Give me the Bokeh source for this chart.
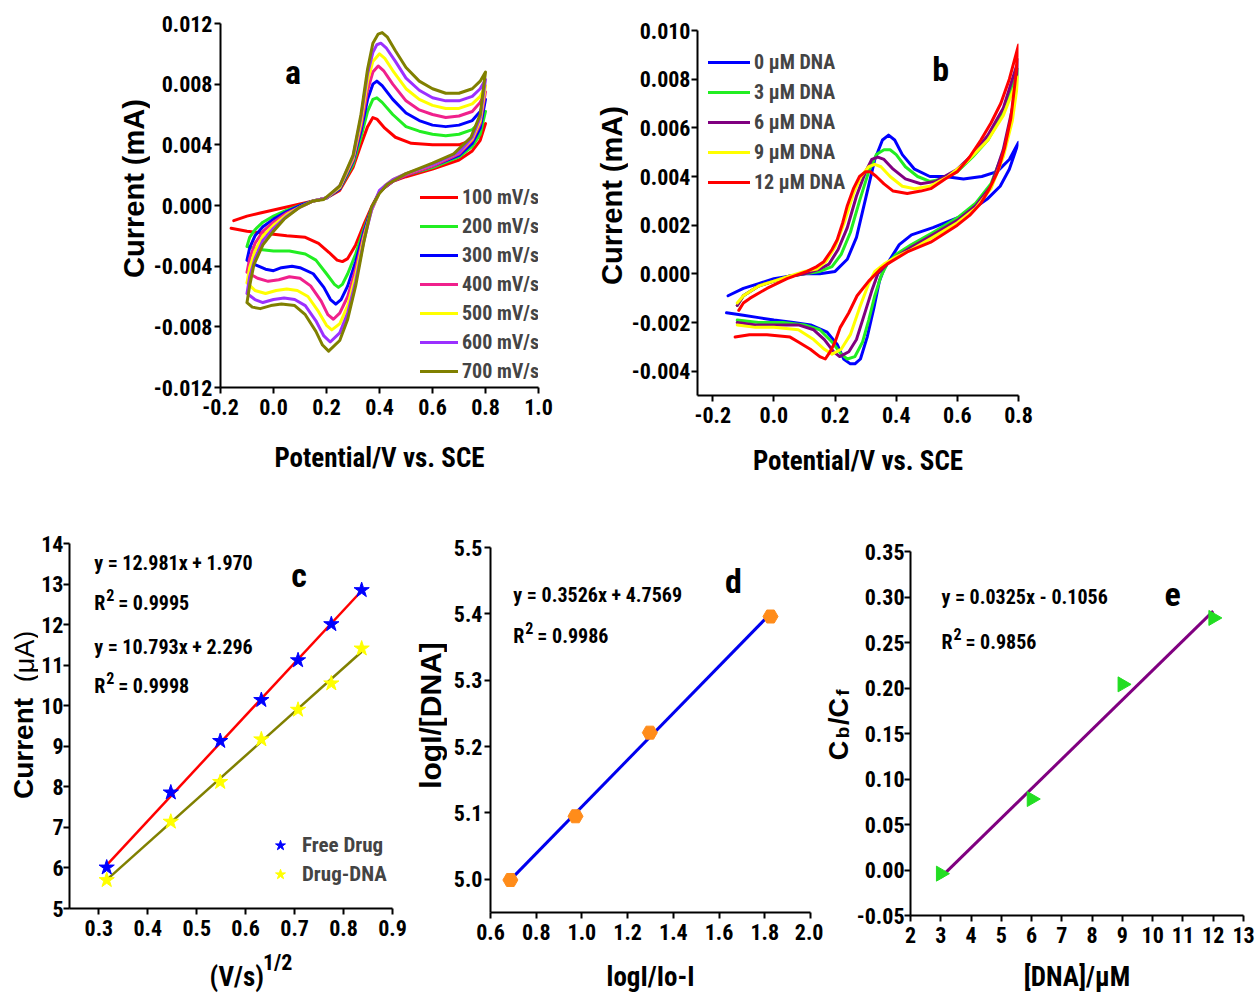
import math
from bokeh.plotting import figure
from bokeh.layouts import column, row
from bokeh.models import (FixedTicker, PrintfTickFormatter, Legend, LegendItem,
                          Label, Spacer)
from bokeh.embed import file_html
from bokeh.resources import INLINE

NARROW = "Roboto Condensed, DejaVu Sans Condensed, Liberation Sans"
WIDE = "Liberation Sans"

# ---------------- Panel a: CVs at different scan rates (E / V, I / mA) ----------------
a_labels = ["100 mV/s", "200 mV/s", "300 mV/s", "400 mV/s", "500 mV/s", "600 mV/s", "700 mV/s"]
a_colors = ["#ff0000", "#22ee22", "#0000ff", "#f0208c", "#ffff00", "#9b30ff", "#808000"]

a_100 = [(-0.15, -0.0010), (-0.1, -0.0007), (-0.05, -0.0005), (0.0, -0.0003), (0.05, -0.0001), (0.1, 0.0001),
         (0.15, 0.0003), (0.2, 0.0005), (0.25, 0.0010), (0.3, 0.0025), (0.33, 0.0040), (0.355, 0.0052),
         (0.375, 0.0058), (0.39, 0.0057), (0.42, 0.0051), (0.46, 0.0045), (0.52, 0.0041), (0.6, 0.0040),
         (0.7, 0.0040), (0.75, 0.0043), (0.78, 0.0048), (0.8, 0.0054),
         (0.78, 0.0043), (0.75, 0.0036), (0.7, 0.0030), (0.6, 0.0024), (0.5, 0.0019), (0.45, 0.0016),
         (0.42, 0.0012), (0.4, 0.0009), (0.37, -0.0001), (0.34, -0.0013), (0.31, -0.0026), (0.28, -0.0035),
         (0.26, -0.0037), (0.24, -0.0036), (0.21, -0.0031), (0.17, -0.0025), (0.12, -0.0021), (0.05, -0.0020),
         (0.0, -0.0019), (-0.05, -0.0018), (-0.1, -0.0017), (-0.16, -0.0015)]
a_200 = [(-0.1, -0.0027), (-0.09, -0.0021), (-0.07, -0.0016), (-0.04, -0.0011), (0.0, -0.0007), (0.05, -0.0003),
         (0.1, 0.0000), (0.15, 0.0003), (0.2, 0.0005), (0.25, 0.0011), (0.3, 0.0027), (0.33, 0.0045),
         (0.355, 0.0062), (0.375, 0.0070), (0.39, 0.0071), (0.41, 0.0068), (0.45, 0.0060), (0.5, 0.0052),
         (0.55, 0.0049), (0.6, 0.0047), (0.65, 0.0046), (0.7, 0.0047), (0.75, 0.0050), (0.78, 0.0055), (0.8, 0.0062),
         (0.78, 0.0047), (0.75, 0.0039), (0.7, 0.0032), (0.6, 0.0025), (0.5, 0.0020), (0.45, 0.0016),
         (0.42, 0.0012), (0.4, 0.0009), (0.37, -0.0002), (0.34, -0.0016), (0.31, -0.0032), (0.28, -0.0045),
         (0.26, -0.0052), (0.245, -0.0054), (0.23, -0.0052), (0.2, -0.0045), (0.16, -0.0036), (0.12, -0.0032),
         (0.06, -0.0030), (0.0, -0.0030), (-0.05, -0.0029), (-0.1, -0.0027)]
a_300 = [(-0.1, -0.0036), (-0.09, -0.0028), (-0.07, -0.0020), (-0.04, -0.0014), (0.0, -0.0009), (0.05, -0.0004),
         (0.1, 0.0000), (0.15, 0.0003), (0.2, 0.0005), (0.25, 0.0011), (0.3, 0.0029), (0.33, 0.0049),
         (0.355, 0.0070), (0.375, 0.0080), (0.39, 0.0082), (0.41, 0.0079), (0.45, 0.0070), (0.5, 0.0061),
         (0.55, 0.0056), (0.6, 0.0053), (0.65, 0.0052), (0.7, 0.0053), (0.75, 0.0056), (0.78, 0.0062), (0.8, 0.0070),
         (0.78, 0.0051), (0.75, 0.0041), (0.7, 0.0033), (0.6, 0.0026), (0.5, 0.0020), (0.45, 0.0016),
         (0.42, 0.0012), (0.4, 0.0009), (0.37, -0.0002), (0.34, -0.0018), (0.31, -0.0037), (0.28, -0.0053),
         (0.255, -0.0062), (0.235, -0.0065), (0.215, -0.0062), (0.19, -0.0054), (0.15, -0.0045), (0.1, -0.0041),
         (0.07, -0.0040), (0.03, -0.0041), (0.0, -0.0043), (-0.03, -0.0042), (-0.07, -0.0039), (-0.1, -0.0036)]
a_400 = [(-0.1, -0.0044), (-0.09, -0.0035), (-0.07, -0.0025), (-0.04, -0.0017), (0.0, -0.0011), (0.05, -0.0005),
         (0.1, -0.0001), (0.15, 0.0003), (0.2, 0.0005), (0.25, 0.0012), (0.3, 0.0030), (0.33, 0.0052),
         (0.355, 0.0076), (0.375, 0.0088), (0.395, 0.0092), (0.415, 0.0089), (0.45, 0.0080), (0.5, 0.0069),
         (0.55, 0.0063), (0.6, 0.0060), (0.65, 0.0058), (0.7, 0.0059), (0.75, 0.0062), (0.78, 0.0068), (0.8, 0.0075),
         (0.78, 0.0054), (0.75, 0.0043), (0.7, 0.0034), (0.6, 0.0026), (0.5, 0.0020), (0.45, 0.0016),
         (0.42, 0.0012), (0.4, 0.0009), (0.37, -0.0003), (0.34, -0.0020), (0.31, -0.0042), (0.28, -0.0060),
         (0.25, -0.0071), (0.226, -0.0075), (0.205, -0.0072), (0.18, -0.0063), (0.14, -0.0053), (0.1, -0.0048),
         (0.06, -0.0047), (0.02, -0.0049), (-0.02, -0.0050), (-0.06, -0.0048), (-0.1, -0.0044)]
a_500 = [(-0.1, -0.0051), (-0.09, -0.0041), (-0.07, -0.0030), (-0.04, -0.0020), (0.0, -0.0013), (0.05, -0.0006),
         (0.1, -0.0001), (0.15, 0.0003), (0.2, 0.0005), (0.25, 0.0012), (0.3, 0.0031), (0.33, 0.0055),
         (0.355, 0.0082), (0.375, 0.0095), (0.40, 0.0100), (0.42, 0.0097), (0.45, 0.0089), (0.5, 0.0077),
         (0.55, 0.0070), (0.6, 0.0066), (0.65, 0.0064), (0.7, 0.0064), (0.75, 0.0067), (0.78, 0.0072), (0.8, 0.0079),
         (0.78, 0.0056), (0.75, 0.0044), (0.7, 0.0035), (0.6, 0.0027), (0.5, 0.0021), (0.45, 0.0017),
         (0.42, 0.0013), (0.4, 0.0009), (0.37, -0.0003), (0.34, -0.0022), (0.31, -0.0046), (0.28, -0.0066),
         (0.25, -0.0078), (0.22, -0.0082), (0.2, -0.0079), (0.17, -0.0070), (0.13, -0.0060), (0.09, -0.0056),
         (0.05, -0.0055), (0.01, -0.0056), (-0.03, -0.0058), (-0.07, -0.0056), (-0.1, -0.0051)]
a_600 = [(-0.1, -0.0058), (-0.09, -0.0047), (-0.07, -0.0035), (-0.04, -0.0023), (0.0, -0.0015), (0.05, -0.0007),
         (0.1, -0.0001), (0.15, 0.0003), (0.2, 0.0005), (0.25, 0.0013), (0.3, 0.0032), (0.33, 0.0058),
         (0.355, 0.0087), (0.375, 0.0101), (0.39, 0.0106), (0.405, 0.0107), (0.425, 0.0104), (0.46, 0.0095),
         (0.5, 0.0084), (0.55, 0.0076), (0.6, 0.0071), (0.65, 0.0069), (0.7, 0.0069), (0.75, 0.0072),
         (0.78, 0.0077), (0.8, 0.0083),
         (0.78, 0.0058), (0.75, 0.0045), (0.7, 0.0035), (0.6, 0.0027), (0.5, 0.0021), (0.45, 0.0017),
         (0.42, 0.0013), (0.4, 0.0010), (0.37, -0.0003), (0.34, -0.0024), (0.31, -0.0050), (0.28, -0.0071),
         (0.25, -0.0084), (0.214, -0.0090), (0.19, -0.0086), (0.16, -0.0076), (0.12, -0.0066), (0.08, -0.0062),
         (0.04, -0.0061), (0.0, -0.0062), (-0.04, -0.0064), (-0.07, -0.0062), (-0.1, -0.0058)]
a_700 = [(-0.1, -0.0064), (-0.09, -0.0053), (-0.074, -0.0039), (-0.04, -0.0026), (0.0, -0.0017), (0.04, -0.0009),
         (0.1, -0.0001), (0.15, 0.0003), (0.19, 0.0004), (0.25, 0.0013), (0.3, 0.0033), (0.33, 0.0060),
         (0.355, 0.0090), (0.375, 0.0107), (0.395, 0.0113), (0.41, 0.0114), (0.43, 0.0111), (0.46, 0.0102),
         (0.5, 0.0091), (0.55, 0.0082), (0.6, 0.0077), (0.65, 0.0074), (0.7, 0.0074), (0.75, 0.0077),
         (0.78, 0.0082), (0.8, 0.0088),
         (0.78, 0.0060), (0.745, 0.0045), (0.68, 0.0034), (0.6, 0.0028), (0.5, 0.0021), (0.43, 0.0014),
         (0.4, 0.0008), (0.37, -0.0001), (0.34, -0.0025), (0.31, -0.0053), (0.28, -0.0075), (0.25, -0.0089),
         (0.208, -0.0096), (0.185, -0.0092), (0.16, -0.0083), (0.12, -0.0072), (0.08, -0.0066), (0.03, -0.0065),
         (-0.01, -0.0066), (-0.05, -0.0068), (-0.08, -0.0067), (-0.1, -0.0064)]
a_curves = [a_100, a_200, a_300, a_400, a_500, a_600, a_700]
a_xticks = [-0.2, 0.0, 0.2, 0.4, 0.6, 0.8, 1.0]
a_yticks = [-0.012, -0.008, -0.004, 0.0, 0.004, 0.008, 0.012]

# ---------------- Panel b: CVs with increasing DNA ----------------
b_labels = ["0 μM DNA", "3 μM DNA", "6 μM DNA", "9 μM DNA", "12 μM DNA"]
b_colors = ["#0000ff", "#22ee22", "#800080", "#ffff00", "#ff0000"]

b_0 = [(-0.15, -0.0009), (-0.1, -0.0006), (-0.05, -0.0004), (0.0, -0.0002), (0.05, -0.0001), (0.1, 0.0000),
       (0.15, 0.0000), (0.2, 0.0001), (0.24, 0.0006), (0.27, 0.0015), (0.3, 0.0031), (0.33, 0.0047),
       (0.355, 0.0055), (0.375, 0.0057), (0.395, 0.0055), (0.42, 0.0049), (0.46, 0.0043), (0.51, 0.0040),
       (0.56, 0.0040), (0.62, 0.0039), (0.68, 0.0040), (0.73, 0.0042), (0.77, 0.0047), (0.8, 0.0054),
       (0.77, 0.0043), (0.74, 0.0036), (0.7, 0.0031), (0.62, 0.0024), (0.52, 0.0019), (0.45, 0.0016),
       (0.41, 0.0012), (0.385, 0.0007), (0.36, 0.0002), (0.345, -0.0003), (0.327, -0.0014), (0.305, -0.0026),
       (0.283, -0.0035), (0.265, -0.0037), (0.25, -0.0037), (0.228, -0.0035), (0.207, -0.0029), (0.174, -0.0024),
       (0.12, -0.0021), (0.064, -0.0020), (0.0, -0.0019), (-0.05, -0.0018), (-0.1, -0.0017), (-0.155, -0.0016)]
b_3 = [(-0.12, -0.0013), (-0.1, -0.0009), (-0.05, -0.0005), (0.0, -0.0003), (0.05, -0.0001), (0.1, 0.0000),
       (0.15, 0.0001), (0.19, 0.0003), (0.22, 0.0008), (0.25, 0.0017), (0.28, 0.0030), (0.31, 0.0042),
       (0.335, 0.0049), (0.36, 0.0051), (0.38, 0.0051), (0.4, 0.0049), (0.43, 0.0044), (0.47, 0.0040),
       (0.51, 0.0038), (0.55, 0.0039), (0.6, 0.0042), (0.65, 0.0048), (0.7, 0.0055), (0.75, 0.0066), (0.8, 0.0084),
       (0.78, 0.0066), (0.75, 0.0050), (0.71, 0.0037), (0.66, 0.0029), (0.6, 0.0023), (0.52, 0.0017),
       (0.45, 0.0012), (0.4, 0.0008), (0.37, 0.0004), (0.35, -0.0001), (0.33, -0.0009), (0.31, -0.0019),
       (0.29, -0.0028), (0.265, -0.0034), (0.24, -0.0035), (0.22, -0.0033), (0.19, -0.0028), (0.15, -0.0023),
       (0.1, -0.0021), (0.03, -0.0020), (-0.05, -0.0020), (-0.12, -0.0019)]
b_6 = [(-0.12, -0.0013), (-0.1, -0.0009), (-0.05, -0.0005), (0.0, -0.0003), (0.05, -0.0001), (0.1, 0.0000),
       (0.15, 0.0002), (0.18, 0.0004), (0.21, 0.0010), (0.24, 0.0019), (0.27, 0.0032), (0.3, 0.0042),
       (0.32, 0.0047), (0.34, 0.0048), (0.36, 0.0047), (0.39, 0.0043), (0.43, 0.0039), (0.48, 0.0037),
       (0.53, 0.0038), (0.6, 0.0043), (0.65, 0.0049), (0.7, 0.0057), (0.75, 0.0068), (0.8, 0.0088),
       (0.78, 0.0068), (0.75, 0.0051), (0.71, 0.0036), (0.66, 0.0028), (0.6, 0.0022), (0.52, 0.0016),
       (0.45, 0.0011), (0.4, 0.0007), (0.37, 0.0004), (0.34, 0.0000), (0.32, -0.0007), (0.3, -0.0015),
       (0.27, -0.0027), (0.245, -0.0032), (0.215, -0.0034), (0.195, -0.0032), (0.165, -0.0027), (0.13, -0.0023),
       (0.08, -0.0021), (0.0, -0.0021), (-0.06, -0.0021), (-0.12, -0.0020)]
b_9 = [(-0.12, -0.0012), (-0.1, -0.0009), (-0.05, -0.0005), (0.0, -0.0003), (0.05, -0.0001), (0.1, 0.0001),
       (0.14, 0.0002), (0.17, 0.0005), (0.2, 0.0011), (0.23, 0.0021), (0.26, 0.0033), (0.285, 0.0040),
       (0.31, 0.0044), (0.33, 0.0045), (0.35, 0.0044), (0.38, 0.0040), (0.42, 0.0036), (0.46, 0.0035),
       (0.51, 0.0036), (0.57, 0.0040), (0.63, 0.0046), (0.7, 0.0055), (0.75, 0.0065), (0.8, 0.0081),
       (0.78, 0.0063), (0.75, 0.0048), (0.71, 0.0035), (0.66, 0.0027), (0.6, 0.0021), (0.52, 0.0015),
       (0.45, 0.0010), (0.4, 0.0007), (0.36, 0.0004), (0.33, 0.0001), (0.31, -0.0004), (0.28, -0.0014),
       (0.25, -0.0025), (0.22, -0.0031), (0.19, -0.0033), (0.165, -0.0031), (0.13, -0.0027), (0.08, -0.0023),
       (0.0, -0.0022), (-0.06, -0.0022), (-0.12, -0.0021)]
b_12 = [(-0.115, -0.0015), (-0.1, -0.0012), (-0.078, -0.0010), (-0.023, -0.0006), (0.043, -0.0002),
        (0.108, 0.0001), (0.14, 0.0003), (0.163, 0.0005), (0.19, 0.0010), (0.207, 0.0014), (0.225, 0.0021),
        (0.24, 0.0028), (0.26, 0.0035), (0.28, 0.0040), (0.3, 0.0042), (0.315, 0.0042), (0.335, 0.0040),
        (0.36, 0.0037), (0.39, 0.0034), (0.436, 0.0033), (0.48, 0.0034), (0.513, 0.0035), (0.56, 0.0039),
        (0.6, 0.0042), (0.64, 0.0048), (0.677, 0.0055), (0.71, 0.0062), (0.742, 0.0070), (0.77, 0.0080),
        (0.8, 0.0094),
        (0.79, 0.0080), (0.775, 0.0064), (0.755, 0.0052), (0.732, 0.0042), (0.705, 0.0035), (0.677, 0.0029),
        (0.64, 0.0024), (0.6, 0.0020), (0.513, 0.0013), (0.436, 0.0009), (0.37, 0.0004), (0.349, 0.0002),
        (0.31, -0.0003), (0.272, -0.0009), (0.245, -0.0016), (0.217, -0.0022), (0.2, -0.0028), (0.184, -0.0032),
        (0.168, -0.0035), (0.15, -0.0034), (0.119, -0.0031), (0.08, -0.0028), (0.053, -0.0026), (-0.023, -0.0025),
        (-0.08, -0.0025), (-0.127, -0.0026)]
b_curves = [b_0, b_3, b_6, b_9, b_12]
b_xticks = [-0.2, 0.0, 0.2, 0.4, 0.6, 0.8]
b_yticks = [-0.004, -0.002, 0.0, 0.002, 0.004, 0.006, 0.008, 0.010]

# ---------------- Panel c: peak current vs sqrt(scan rate) ----------------
c_x = [0.316, 0.447, 0.548, 0.632, 0.707, 0.775, 0.837]
c_free = [6.01, 7.86, 9.13, 10.14, 11.12, 12.01, 12.85]
c_dna = [5.70, 7.14, 8.12, 9.17, 9.90, 10.55, 11.41]
c_fit_free = (12.981, 1.970)
c_fit_dna = (10.793, 2.296)
c_xticks = [0.3, 0.4, 0.5, 0.6, 0.7, 0.8, 0.9]
c_yticks = [5, 6, 7, 8, 9, 10, 11, 12, 13, 14]

# ---------------- Panel d ----------------
d_x = [0.687, 0.972, 1.297, 1.825]
d_y = [4.999, 5.095, 5.221, 5.396]
d_fit = (0.3526, 4.7569)
d_xticks = [0.6, 0.8, 1.0, 1.2, 1.4, 1.6, 1.8, 2.0]
d_yticks = [5.0, 5.1, 5.2, 5.3, 5.4, 5.5]

# ---------------- Panel e ----------------
e_x = [3, 6, 9, 12]
e_y = [-0.004, 0.078, 0.204, 0.277]
e_fit = (0.0325, -0.1056)
e_xticks = [2, 3, 4, 5, 6, 7, 8, 9, 10, 11, 12, 13]
e_yticks = [-0.05, 0.0, 0.05, 0.10, 0.15, 0.20, 0.25, 0.30, 0.35]

HALF = math.pi / 2


def make_fig(w, h, xr, yr, mbl, mbr, mbt, mbb, xt, yt, xfmt, yfmt):
    p = figure(width=w, height=h, x_range=xr, y_range=yr, output_backend="svg",
               toolbar_location=None, min_border_left=mbl, min_border_right=mbr,
               min_border_top=mbt, min_border_bottom=mbb)
    p.outline_line_color = None
    p.xgrid.visible = False
    p.ygrid.visible = False
    p.xaxis.ticker = FixedTicker(ticks=xt)
    p.yaxis.ticker = FixedTicker(ticks=yt)
    p.xaxis.formatter = PrintfTickFormatter(format=xfmt)
    p.yaxis.formatter = PrintfTickFormatter(format=yfmt)
    for ax in (p.xaxis[0], p.yaxis[0]):
        ax.axis_line_width = 2
        ax.axis_line_color = "black"
        ax.major_tick_line_width = 2
        ax.major_tick_out = 6
        ax.major_tick_in = 0
        ax.minor_tick_out = 0
        ax.minor_tick_in = 0
        ax.major_label_text_font = NARROW
        ax.major_label_text_font_style = "bold"
        ax.major_label_text_font_size = "22px"
        ax.major_label_text_color = "black"
        ax.axis_label_text_font_style = "bold"
        ax.axis_label_text_color = "black"
    p.xaxis.major_label_standoff = 5
    p.yaxis.major_label_standoff = 2
    p.xaxis.axis_label_text_font = NARROW
    p.xaxis.axis_label_text_font_size = "27px"
    return p


def blank(w, h):
    s = figure(width=w, height=h, x_range=(0, w), y_range=(h, 0), output_backend="svg",
               toolbar_location=None, min_border=0, x_axis_location=None, y_axis_location=None)
    s.outline_line_color = None
    s.xgrid.visible = False
    s.ygrid.visible = False
    return s


def add_text(p, x, y, text, size="20px", font=NARROW, align="left", xo=0, yo=0, angle=0.0,
             style="bold"):
    p.add_layout(Label(x=x, y=y, text=text, text_font=font, text_font_size=size,
                       text_font_style=style, text_color="black", text_align=align,
                       text_baseline="middle", x_offset=xo, y_offset=yo, angle=angle))


def add_r2(p, x, y, val):
    add_text(p, x, y, "R", xo=0)
    add_text(p, x, y, "2", size="16px", xo=12, yo=8)
    add_text(p, x, y, "= " + val, xo=24)


def legend(items, loc, spacing, gw, gh, standoff, size="20px"):
    return Legend(items=items, location=loc, padding=0, margin=0, spacing=spacing,
                  glyph_width=gw, glyph_height=gh, label_height=20, label_standoff=standoff,
                  border_line_color=None, background_fill_alpha=0,
                  label_text_font=NARROW, label_text_font_style="bold", label_text_font_size=size)


# ---------------- Figure a (+ strip with its y label) ----------------
sa = blank(40, 480)
add_text(sa, 23, 188, "Current (mA)", size="29px", font=WIDE, align="center", angle=HALF)

pa = make_fig(410, 480, (-0.2, 1.0), (-0.012, 0.012), 68, 22, 23, 93,
              a_xticks, a_yticks, "%.1f", "%.3f")
pa.xaxis.axis_label = "Potential/V vs. SCE"
pa.xaxis.axis_label_standoff = 24
items = []
for lab, col, cur in zip(a_labels, a_colors, a_curves):
    r = pa.line([pt[0] for pt in cur], [pt[1] for pt in cur], line_color=col, line_width=3,
                line_join="round", line_cap="round")
    items.append(LegendItem(label=lab, renderers=[r]))
pa.add_layout(legend(items, (200, 4), 5, 38, 20, 4))
add_text(pa, 0.074, 0.0088, "a", size="34px", align="center")

# ---------------- Figure b (+ strip with its y label) ----------------
sb = blank(68, 480)
add_text(sb, 51.5, 195, "Current (mA)", size="29px", font=WIDE, align="center", angle=HALF)

pb = make_fig(430, 480, (-0.25, 0.8), (-0.005, 0.010), 69, 40, 30, 85,
              b_xticks, b_yticks, "%.1f", "%.3f")
pb.yaxis.major_label_standoff = 1
pb.xaxis.axis_label = "Potential/V vs. SCE"
pb.xaxis.axis_label_standoff = 19
items = []
for lab, col, cur in zip(b_labels, b_colors, b_curves):
    r = pb.line([pt[0] for pt in cur], [pt[1] for pt in cur], line_color=col, line_width=3,
                line_join="round", line_cap="round")
    items.append(LegendItem(label=lab, renderers=[r]))
pb.add_layout(legend(items, (11, 201), 6, 42, 20, 4))
add_text(pb, 0.545, 0.0084, "b", size="34px", align="center")

# ---------------- Figure c (+ strips with its labels) ----------------
scy = blank(38, 515)
add_text(scy, 23, 268, "Current", size="28px", font=WIDE, align="center", angle=HALF)
add_text(scy, 24, 176, "(μA)", size="27px", font=WIDE, align="center", angle=HALF, style="normal")

pc = make_fig(369, 468, (0.24, 0.9), (5, 14), 29, 15, 63, 40,
              c_xticks, c_yticks, "%.1f", "%d")
pc.yaxis.major_label_standoff = 0
xe = [min(c_x), max(c_x)]
pc.line(xe, [c_fit_free[0] * v + c_fit_free[1] for v in xe], line_color="#ff0000", line_width=2.5)
pc.line(xe, [c_fit_dna[0] * v + c_fit_dna[1] for v in xe], line_color="#808000", line_width=2.5)
r1 = pc.scatter(c_x, c_free, marker="star", size=16, fill_color="#0000ff", line_color="#0000ff")
r2 = pc.scatter(c_x, c_dna, marker="star", size=16, fill_color="#ffff00", line_color="#ffff00")
pc.add_layout(legend([LegendItem(label="Free Drug", renderers=[r1]),
                      LegendItem(label="Drug-DNA", renderers=[r2])], (198, 21), 3, 26, 26, 9, "21px"))
add_text(pc, 0.2904, 13.51, "y = 12.981x + 1.970")
add_r2(pc, 0.2904, 12.53, "0.9995")
add_text(pc, 0.2904, 11.44, "y = 10.793x + 2.296")
add_r2(pc, 0.2904, 10.48, "0.9998")
add_text(pc, 0.709, 13.22, "c", size="34px", align="center")

sc = blank(369, 47)
add_text(sc, 191, 28, "(V/s)", size="27px", align="center")
add_text(sc, 221, 14, "1/2", size="22px")

# ---------------- Figure d (+ strip with its y label) ----------------
sdy = blank(40, 515)
add_text(sdy, 23, 235, "logI/[DNA]", size="30px", font=WIDE, align="center", angle=HALF)

pd_ = make_fig(376, 515, (0.6, 2.0), (4.95, 5.5), 43, 13, 67, 83,
               d_xticks, d_yticks, "%.1f", "%.1f")
pd_.xaxis.axis_label = "logI/Io-I"
pd_.xaxis.axis_label_standoff = 18
xe = [min(d_x), max(d_x)]
pd_.line(xe, [d_fit[0] * v + d_fit[1] for v in xe], line_color="#0000ee", line_width=3)
pd_.scatter(d_x, d_y, marker="hex", size=15, fill_color="#ff8c1a", line_color="#ff8c1a")
add_text(pd_, 0.70, 5.429, "y = 0.3526x + 4.7569")
add_r2(pd_, 0.70, 5.366, "0.9986")
add_text(pd_, 1.663, 5.449, "d", size="34px", align="center")

# ---------------- Figure e (+ strip with its y label) ----------------
se = blank(30, 515)
add_text(se, 15.2, 270, "C", size="27px", font=WIDE, align="center", angle=HALF)
add_text(se, 19.3, 252, "b", size="19px", font=WIDE, align="center", angle=HALF)
add_text(se, 15.2, 231, "/C", size="27px", font=WIDE, align="center", angle=HALF)
add_text(se, 19.3, 212, "f", size="19px", font=WIDE, align="center", angle=HALF)

pe = make_fig(405, 515, (2, 13), (-0.05, 0.35), 56, 15, 71, 80,
              e_xticks, e_yticks, "%d", "%.2f")
pe.yaxis.major_label_standoff = 0
pe.xaxis.axis_label = "[DNA]/μM"
pe.xaxis.axis_label_standoff = 15
xe = [min(e_x), max(e_x)]
pe.line(xe, [e_fit[0] * v + e_fit[1] for v in xe], line_color="#800080", line_width=3)
pe.scatter(e_x, e_y, marker="triangle", size=15, angle=-math.pi / 2,
           fill_color="#22dd22", line_color="#22dd22")
add_text(pe, 3.02, 0.300, "y = 0.0325x - 0.1056")
add_r2(pe, 3.02, 0.2507, "0.9856")
add_text(pe, 10.66, 0.303, "e", size="34px", align="center")

top = row(Spacer(width=110, height=480), column(sa), column(pa), column(sb), column(pb))
bottom = row(column(scy), column(pc, sc), column(sdy), column(pd_), column(se), column(pe))
layout = column(top, bottom)

open("out.html", "w").write(file_html(layout, INLINE))
